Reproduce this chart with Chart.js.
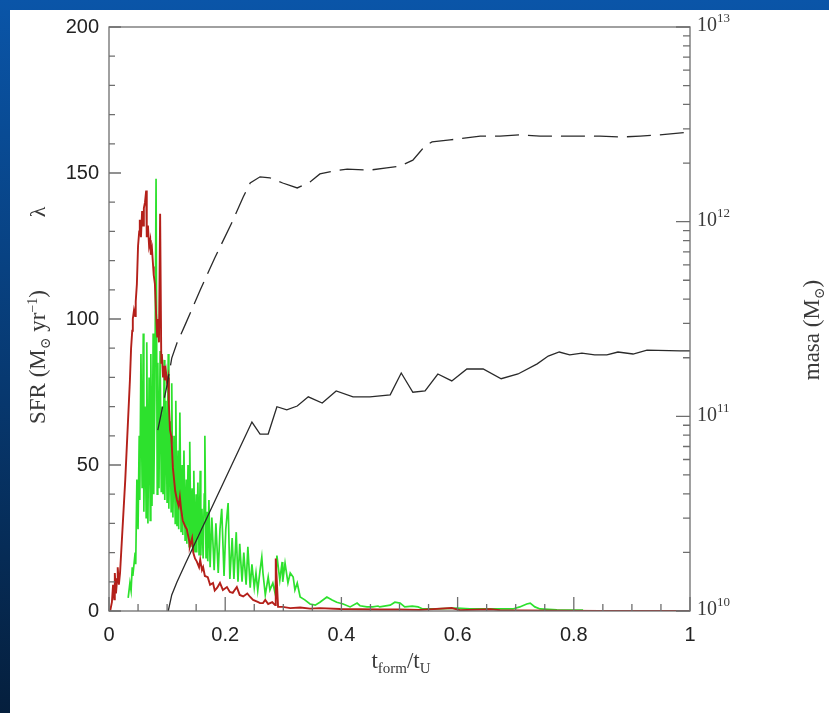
<!DOCTYPE html>
<html>
<head>
<meta charset="utf-8">
<script src="https://cdn.jsdelivr.net/npm/chart.js@4.4.0/dist/chart.umd.min.js"></script>
<style>
  html, body { margin: 0; padding: 0; width: 829px; height: 713px; overflow: hidden; }
  body { background: linear-gradient(to bottom, #0a55a8 0%, #07386f 55%, #051f3d 100%); }
  #panel { position: absolute; left: 10px; top: 10px; right: 0; bottom: 0; background: #fff; }
  #wrap { position: absolute; left: 0; top: 0; width: 829px; height: 713px; }
</style>
</head>
<body>
<div id="panel"></div>
<div id="wrap"><canvas id="myChart" width="829" height="713"></canvas></div>
<script>
// SFR curves (t_form/t_U, SFR in Msun/yr)
const redT = [0.002, 0.005, 0.007, 0.009, 0.010, 0.012, 0.014, 0.015, 0.017, 0.019, 0.028, 0.036, 0.038, 0.040, 0.041, 0.043, 0.045, 0.046, 0.048, 0.050,
  0.052, 0.053, 0.055, 0.057, 0.059, 0.060, 0.062, 0.064, 0.065, 0.067, 0.069, 0.071, 0.072, 0.074, 0.076, 0.077, 0.079, 0.081, 0.083, 0.084,
  0.086, 0.088, 0.090, 0.091, 0.093, 0.095, 0.096, 0.098, 0.100, 0.102, 0.103, 0.105, 0.107, 0.108, 0.110, 0.112, 0.114, 0.117, 0.120, 0.122,
  0.124, 0.127, 0.131, 0.134, 0.138, 0.139, 0.143, 0.145, 0.148, 0.151, 0.155, 0.157, 0.160, 0.162, 0.165, 0.170, 0.174, 0.179, 0.182, 0.186,
  0.191, 0.196, 0.203, 0.208, 0.213, 0.220, 0.225, 0.231, 0.238, 0.243, 0.248, 0.256, 0.260, 0.265, 0.269, 0.274, 0.281, 0.286, 0.287, 0.291,
  0.299, 0.312, 0.329, 0.346, 0.363, 0.398, 0.432, 0.466, 0.501, 0.535, 0.590, 0.604, 0.656, 0.673, 0.707, 0.776, 0.845, 1.0];
const redSFR = [0, 3, 9, 4, 13, 6, 11, 15, 9, 13, 45, 79, 90, 96, 100, 103, 101, 106, 112, 125,
  130, 134, 128, 137, 132, 138, 140, 144, 128, 132, 125, 127, 122, 124, 118, 115, 112, 102, 94, 100,
  92, 136, 85, 88, 80, 84, 79, 82, 78, 80, 71, 62, 60, 57, 49, 45, 41, 38, 36, 39,
  35, 31, 29, 28, 24, 22, 25, 20, 18, 17, 15, 17.5, 14, 15, 12, 11.6, 9, 9.6, 7, 7.9,
  9.6, 7.2, 8.2, 6.5, 6.2, 8.2, 5.5, 5, 6, 4.8, 3.8, 3.1, 2.7, 2.7, 3.8, 2.4, 3, 2, 18, 1.4,
  1.4, 1, 1.2, 0.8, 1, 0.7, 0.6, 0.5, 0.5, 0.4, 1, 0.3, 0.6, 0.3, 0.2, 0.1, 0, 0];

const greenT = [0.033, 0.036, 0.038, 0.040, 0.041, 0.045, 0.046, 0.048, 0.050, 0.052, 0.053, 0.055, 0.057, 0.059, 0.060, 0.062, 0.064, 0.065, 0.067, 0.069,
  0.071, 0.072, 0.074, 0.076, 0.077, 0.079, 0.081, 0.083, 0.084, 0.086, 0.088, 0.090, 0.091, 0.093, 0.095, 0.096, 0.098, 0.100, 0.102, 0.103,
  0.105, 0.107, 0.108, 0.110, 0.112, 0.114, 0.115, 0.117, 0.119, 0.120, 0.122, 0.124, 0.126, 0.127, 0.129, 0.131, 0.133, 0.134, 0.136, 0.138,
  0.139, 0.141, 0.143, 0.145, 0.146, 0.148, 0.150, 0.151, 0.153, 0.155, 0.157, 0.158, 0.160, 0.162, 0.164, 0.165, 0.167, 0.169, 0.170, 0.172,
  0.174, 0.177, 0.181, 0.184, 0.188, 0.191, 0.194, 0.198, 0.201, 0.205, 0.208, 0.212, 0.215, 0.219, 0.222, 0.225, 0.229, 0.232, 0.236, 0.239,
  0.243, 0.246, 0.250, 0.253, 0.256, 0.260, 0.263, 0.265, 0.269, 0.274, 0.277, 0.282, 0.286, 0.289, 0.294, 0.298, 0.299, 0.303, 0.308, 0.312,
  0.317, 0.320, 0.324, 0.329, 0.337, 0.346, 0.355, 0.363, 0.375, 0.384, 0.392, 0.403, 0.415, 0.427, 0.432, 0.444, 0.454, 0.463, 0.466, 0.484,
  0.492, 0.501, 0.509, 0.522, 0.532, 0.540, 0.565, 0.599, 0.621, 0.651, 0.678, 0.695, 0.707, 0.719, 0.725, 0.733, 0.742, 0.771, 0.816];
const greenSFR = [4.5, 9.6, 7, 15, 12, 20, 16, 45, 28, 60, 38, 88, 42, 95, 34, 70, 32, 92, 30, 80,
  31, 88, 36, 95, 40, 75, 148, 40, 85, 42, 89, 41, 70, 40, 86, 38, 72, 37, 88, 35,
  65, 34, 78, 32, 60, 30, 72, 29, 55, 28, 68, 27, 50, 26, 55, 24, 45, 23, 50, 22,
  58, 22, 42, 21, 48, 20, 40, 20, 44, 19, 48, 19, 35, 18, 40, 60, 18, 34, 17, 38,
  15, 32, 14, 30, 13, 28, 35, 12, 28, 37, 11, 25, 11, 27, 10, 23, 10, 20, 9, 22,
  8, 16, 8, 13, 7, 14, 18.5, 13, 5.5, 11.6, 7.2, 9.6, 6, 19, 10.6, 16.8, 10, 16.4, 9.6, 13,
  11.6, 7.2, 9.6, 4.8, 3.8, 2.4, 2, 3, 4.8, 3.8, 3, 2.4, 1.4, 2.7, 1.8, 1.4, 1.4, 1.7, 1.4, 2,
  3, 2.7, 1.4, 1.7, 1.4, 0.7, 0.7, 1, 0.7, 0.7, 0.7, 0.7, 1.4, 2.4, 2.7, 1.4, 0.7, 0.4, 0.3];

// mass curves (Msun, right log axis)
const dashT = [0.084, 0.100, 0.108, 0.117, 0.131, 0.157, 0.182, 0.212, 0.231, 0.243, 0.260, 0.277, 0.299, 0.324, 0.346, 0.363, 0.386, 0.410, 0.449, 0.478,
  0.501, 0.523, 0.535, 0.544, 0.556, 0.587, 0.639, 0.673, 0.707, 0.742, 0.776, 0.811, 0.845, 0.880, 0.914, 0.948, 1.0];
const dashMass = [8.5e10, 1.45e11, 1.99e11, 2.38e11, 2.95e11, 4.46e11, 6.51e11, 9.96e11, 1.34e12, 1.58e12, 1.70e12, 1.68e12, 1.58e12, 1.49e12, 1.60e12, 1.76e12, 1.82e12, 1.86e12, 1.84e12, 1.89e12,
  1.93e12, 2.07e12, 2.28e12, 2.45e12, 2.57e12, 2.63e12, 2.75e12, 2.75e12, 2.79e12, 2.75e12, 2.75e12, 2.75e12, 2.75e12, 2.72e12, 2.75e12, 2.79e12, 2.89e12];

const solidT = [0.102, 0.108, 0.117, 0.131, 0.246, 0.260, 0.274, 0.289, 0.306, 0.324, 0.343, 0.367, 0.391, 0.420, 0.449, 0.484, 0.503, 0.523, 0.544, 0.566,
  0.590, 0.616, 0.644, 0.675, 0.704, 0.737, 0.756, 0.775, 0.793, 0.814, 0.836, 0.857, 0.876, 0.902, 0.926, 0.983, 1.0];
const solidMass = [1.0e10, 1.21e10, 1.41e10, 1.74e10, 9.35e10, 8.11e10, 8.11e10, 1.12e11, 1.08e11, 1.13e11, 1.26e11, 1.17e11, 1.35e11, 1.26e11, 1.26e11, 1.29e11, 1.67e11, 1.33e11, 1.35e11, 1.65e11,
  1.52e11, 1.75e11, 1.75e11, 1.56e11, 1.65e11, 1.86e11, 2.04e11, 2.14e11, 2.07e11, 2.11e11, 2.07e11, 2.07e11, 2.14e11, 2.09e11, 2.19e11, 2.17e11, 2.17e11];

// axis ticks
const xMajor = [0, 0.2, 0.4, 0.6, 0.8, 1];
const yMajor = [0, 50, 100, 150, 200];
const massExp = [10, 11, 12, 13];

const serif = '"Liberation Serif", "DejaVu Serif", serif';
const sans = '"Liberation Sans", Arial, sans-serif';

function pts(xs, ys) {
  return xs.map((x, i) => ({ x: x, y: ys[i] }));
}

// draw a row of text pieces: [text, size, dy]
function drawRuns(ctx, runs, x, y, align) {
  let total = 0;
  runs.forEach(r => { ctx.font = r[1] + 'px ' + serif; total += ctx.measureText(r[0]).width; });
  let cx = align === 'center' ? x - total / 2 : x;
  runs.forEach(r => {
    ctx.font = r[1] + 'px ' + serif;
    ctx.fillText(r[0], cx, y + r[2]);
    cx += ctx.measureText(r[0]).width;
  });
}

const decor = {
  id: 'decor',
  afterDatasetsDraw(chart) {
    const ctx = chart.ctx;
    const a = chart.chartArea;
    const xs = chart.scales.x, ys = chart.scales.y, ms = chart.scales.y2;
    ctx.save();
    ctx.strokeStyle = '#6e6e6e';
    ctx.lineWidth = 1.3;
    ctx.strokeRect(a.left, a.top, a.right - a.left, a.bottom - a.top);
    ctx.beginPath();
    // bottom ticks, inward
    for (let i = 0; i <= 20; i++) {
      const v = i * 0.05;
      const px = xs.getPixelForValue(v);
      const len = (i % 4 === 0) ? 14 : 7;
      ctx.moveTo(px, a.bottom);
      ctx.lineTo(px, a.bottom - len);
    }
    // left ticks
    for (let v = 0; v <= 200; v += 10) {
      const py = ys.getPixelForValue(v);
      const len = (v % 50 === 0) ? 12 : 6;
      ctx.moveTo(a.left, py);
      ctx.lineTo(a.left + len, py);
    }
    // right log ticks
    for (let e = 10; e <= 12; e++) {
      for (let m = 1; m <= 9; m++) {
        const py = ms.getPixelForValue(m * Math.pow(10, e));
        const len = (m === 1) ? 14 : 7;
        ctx.moveTo(a.right, py);
        ctx.lineTo(a.right - len, py);
      }
    }
    ctx.moveTo(a.right, ms.getPixelForValue(1e13));
    ctx.lineTo(a.right - 14, ms.getPixelForValue(1e13));
    ctx.stroke();
    ctx.restore();
  },
  afterDraw(chart) {
    const ctx = chart.ctx;
    const ms = chart.scales.y2;
    const a = chart.chartArea;
    ctx.save();
    ctx.fillStyle = '#3a3a3a';
    ctx.textBaseline = 'middle';
    ctx.textAlign = 'left';
    // right axis labels 10^n
    massExp.forEach(e => {
      const py = ms.getPixelForValue(Math.pow(10, e));
      drawRuns(ctx, [['10', 20, 0], [String(e), 13, -7]], a.right + 7, py - 1, 'left');
    });
    // x title
    ctx.textBaseline = 'alphabetic';
    drawRuns(ctx, [['t', 23, 0], ['form', 15, 5], ['/', 23, 0], ['t', 23, 0], ['U', 15, 5]], 401, 668, 'center');
    // left title (rotated)
    ctx.save();
    ctx.translate(45, 357);
    ctx.rotate(-Math.PI / 2);
    drawRuns(ctx, [['SFR (M', 23, 0], ['\u2299', 14, 5], [' yr', 23, 0], ['\u22121', 14, -8], [')', 23, 0]], 0, 0, 'center');
    ctx.restore();
    ctx.save();
    ctx.translate(45, 212);
    ctx.rotate(-Math.PI / 2);
    drawRuns(ctx, [['\u03bb', 22, 0]], 0, 0, 'center');
    ctx.restore();
    // right title
    ctx.save();
    ctx.translate(819, 330);
    ctx.rotate(-Math.PI / 2);
    drawRuns(ctx, [['masa (M', 23, 0], ['\u2299', 14, 5], [')', 23, 0]], 0, 0, 'center');
    ctx.restore();
    ctx.restore();
  }
};

const ctx = document.getElementById('myChart').getContext('2d');
new Chart(ctx, {
  type: 'line',
  data: {
    datasets: [
      { data: pts(solidT, solidMass), yAxisID: 'y2', borderColor: '#2a2a2a', borderWidth: 1.3 },
      { data: pts(dashT, dashMass), yAxisID: 'y2', borderColor: '#2a2a2a', borderWidth: 1.3, borderDash: [24, 9] },
      { data: pts(redT, redSFR), yAxisID: 'y', borderColor: 'rgb(180, 32, 26)', borderWidth: 1.9 },
      { data: pts(greenT, greenSFR), yAxisID: 'y', borderColor: 'rgb(45, 225, 45)', borderWidth: 1.7 }
    ]
  },
  options: {
    responsive: false,
    animation: false,
    devicePixelRatio: 1,
    elements: { point: { radius: 0 }, line: { tension: 0 } },
    layout: { padding: { top: 27, right: 0, bottom: 0, left: 0 } },
    plugins: { legend: { display: false }, tooltip: { enabled: false } },
    scales: {
      x: {
        type: 'linear', position: 'bottom', min: 0, max: 1,
        afterFit: s => { s.height = 102; },
        grid: { display: false, drawTicks: false },
        border: { display: false },
        ticks: {
          stepSize: 0.2, padding: 12, maxRotation: 0, color: '#222', font: { family: sans, size: 20 },
          callback: v => String(Number(v.toFixed(2)))
        }
      },
      y: {
        type: 'linear', position: 'left', min: 0, max: 200,
        afterFit: s => { s.width = 109; },
        grid: { display: false, drawTicks: false },
        border: { display: false },
        ticks: { stepSize: 50, padding: 10, color: '#222', font: { family: sans, size: 20 } }
      },
      y2: {
        type: 'logarithmic', position: 'right', min: 1e10, max: 1e13,
        afterFit: s => { s.width = 139; },
        grid: { display: false, drawTicks: false },
        border: { display: false },
        ticks: { display: false }
      }
    }
  },
  plugins: [decor]
});
</script>
</body>
</html>
